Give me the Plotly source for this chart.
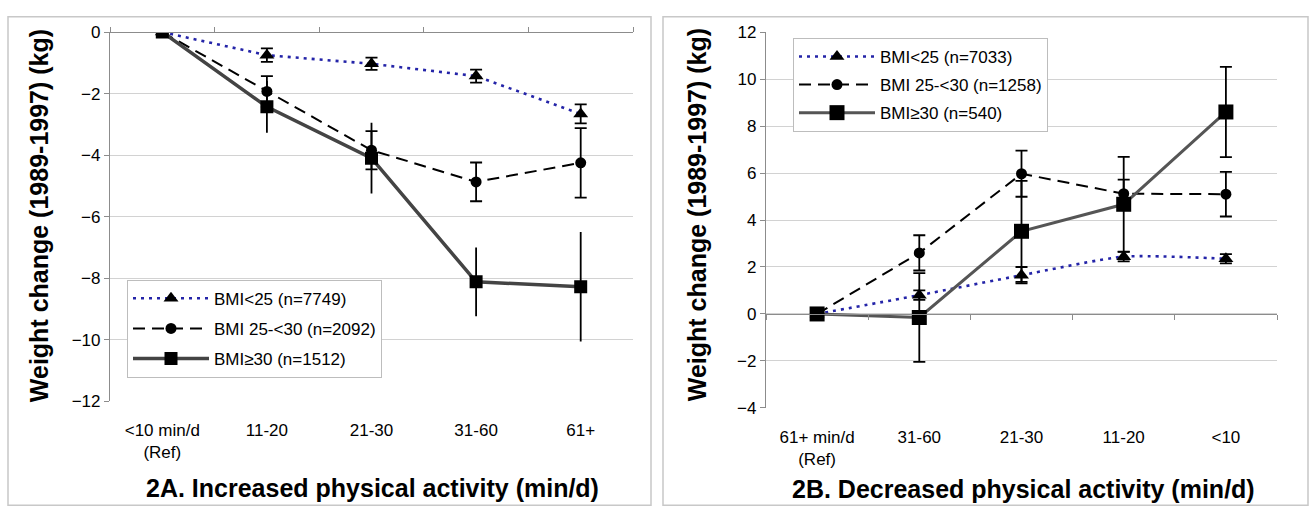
import plotly.graph_objects as go

W, H = 1316, 521

# ---------------- data ----------------
cats_a = ["<10 min/d<br>(Ref)", "11-20", "21-30", "31-60", "61+"]
cats_b = ["61+ min/d<br>(Ref)", "31-60", "21-30", "11-20", "<10"]

names_a = ["BMI<25 (n=7749)", "BMI 25-<30 (n=2092)", "BMI≥30 (n=1512)"]
names_b = ["BMI<25 (n=7033)", "BMI 25-<30 (n=1258)", "BMI≥30 (n=540)"]

a_bmi_lt25 = [0, -0.75, -1.03, -1.43, -2.66]
a_bmi_lt25_err = [0, 0.22, 0.20, 0.21, 0.31]
a_bmi_25_30 = [0, -1.93, -3.84, -4.87, -4.25]
a_bmi_25_30_err = [0, 0.50, 0.62, 0.63, 1.13]
a_bmi_ge30 = [0, -2.43, -4.10, -8.12, -8.28]
a_bmi_ge30_err = [0, 0.84, 1.15, 1.12, 1.78]

b_bmi_lt25 = [0, 0.80, 1.65, 2.44, 2.35]
b_bmi_lt25_err = [0, 0.20, 0.35, 0.20, 0.20]
b_bmi_25_30 = [0, 2.60, 5.97, 5.12, 5.10]
b_bmi_25_30_err = [0, 0.75, 0.98, 0.60, 0.95]
b_bmi_ge30 = [0, -0.15, 3.52, 4.67, 8.60]
b_bmi_ge30_err = [0, 1.89, 2.15, 2.02, 1.92]

yticks_a = [0, -2, -4, -6, -8, -10, -12]
yticks_b = [12, 10, 8, 6, 4, 2, 0, -2, -4]

title_a = "2A. Increased physical activity (min/d)"
title_b = "2B. Decreased physical activity (min/d)"
ytitle = "Weight change (1989-1997) (kg)"

# ---------------- helpers ----------------
FONT = "Liberation Sans, Arial, sans-serif"


def px(x):
    return x / W


def py(y):
    return 1 - y / H


AXC = "#8c8c8c"
GRIDC = "#d2d2d2"

styles = [
    dict(line=dict(color="#2424a8", width=2.6, dash="3px,5px"),
         marker=dict(symbol="triangle-up", size=13, color="black")),
    dict(line=dict(color="black", width=2, dash="12px,7px"),
         marker=dict(symbol="circle", size=11, color="black")),
    dict(line=dict(color="#444444", width=3.5),
         marker=dict(symbol="square", size=13, color="black")),
]

fig = go.Figure()

xa = list(range(len(cats_a)))
xb = list(range(len(cats_b)))

panel_a = [(a_bmi_lt25, a_bmi_lt25_err), (a_bmi_25_30, a_bmi_25_30_err), (a_bmi_ge30, a_bmi_ge30_err)]
panel_b = [(b_bmi_lt25, b_bmi_lt25_err), (b_bmi_25_30, b_bmi_25_30_err), (b_bmi_ge30, b_bmi_ge30_err)]

for i, ((vals, err), name) in enumerate(zip(panel_a, names_a)):
    st = styles[i]
    fig.add_trace(go.Scatter(
        x=xa, y=vals, name=name, mode="lines+markers",
        line=st["line"], marker=st["marker"],
        error_y=dict(type="data", array=err, color="black", thickness=1.8,
                     width=0 if i == 2 else 6),
        xaxis="x", yaxis="y", legend="legend", legendgroup="a%d" % i,
    ))

for i, ((vals, err), name) in enumerate(zip(panel_b, names_b)):
    st = styles[i]
    line = dict(st["line"])
    marker = dict(st["marker"])
    if i == 0:
        line["shape"] = "spline"
        line["smoothing"] = 0.6
    if i == 2:
        line["color"] = "#555555"
        line["width"] = 3
        marker["size"] = 15
    fig.add_trace(go.Scatter(
        x=xb, y=vals, name=name, mode="lines+markers",
        line=line, marker=marker,
        error_y=dict(type="data", array=err, color="black", thickness=1.8, width=6),
        xaxis="x2", yaxis="y2", legend="legend2", legendgroup="b%d" % i,
    ))

# dummy traces to activate overlay axes (axis line with boundary ticks at y=0)
fig.add_trace(go.Scatter(x=[None], y=[None], xaxis="x3", yaxis="y", showlegend=False, hoverinfo="skip"))
fig.add_trace(go.Scatter(x=[None], y=[None], xaxis="x4", yaxis="y2", showlegend=False, hoverinfo="skip"))

dom_a_x = [px(110), px(633)]
dom_a_y = [py(407), py(24)]
dom_b_x = [px(766), px(1277)]
dom_b_y = [py(414), py(24)]

rng_a = [min(yticks_a), max(yticks_a)]
rng_b = [min(yticks_b), max(yticks_b)]


def zero_pos(dom, rng):
    return dom[0] + (0 - rng[0]) / (rng[1] - rng[0]) * (dom[1] - dom[0])


xrng = [-0.5, len(cats_a) - 0.5]
bounds = [i - 0.5 for i in range(len(cats_a) + 1)]

common_x = dict(range=xrng, showline=False, ticks="", showgrid=False, zeroline=False,
                tickfont=dict(size=17, color="black", family=FONT), ticklabelstandoff=17)
common_y = dict(showline=True, linecolor=AXC, linewidth=1.2, ticks="outside", ticklen=5,
                tickcolor=AXC, showgrid=True, gridcolor=GRIDC, gridwidth=1.2, zeroline=False,
                tickfont=dict(size=17, color="black", family=FONT))

leg_common = dict(xanchor="left", yanchor="top", bgcolor="white",
                  bordercolor="#bdbdbd", borderwidth=1, font=dict(size=17, family=FONT),
                  traceorder="grouped", itemwidth=76)

fig.update_layout(
    width=W, height=H,
    margin=dict(l=0, r=0, t=0, b=0),
    paper_bgcolor="white", plot_bgcolor="white",
    font=dict(family=FONT, color="black"),
    xaxis=dict(domain=dom_a_x, anchor="y", tickvals=xa, ticktext=cats_a, **common_x),
    yaxis=dict(domain=dom_a_y, anchor="x", range=rng_a, tickvals=yticks_a, **common_y),
    xaxis2=dict(domain=dom_b_x, anchor="y2", tickvals=xb, ticktext=cats_b, **common_x),
    yaxis2=dict(domain=dom_b_y, anchor="x2", range=rng_b, tickvals=yticks_b, **common_y),
    xaxis3=dict(overlaying="x", anchor="free", position=zero_pos(dom_a_y, rng_a), side="top",
                range=xrng, tickvals=bounds, ticks="outside", ticklen=5, tickcolor=AXC,
                showticklabels=False, showline=True, linecolor=AXC, linewidth=1.2,
                showgrid=False, zeroline=False),
    xaxis4=dict(overlaying="x2", anchor="free", position=zero_pos(dom_b_y, rng_b), side="bottom",
                range=xrng, tickvals=bounds, ticks="outside", ticklen=5, tickcolor=AXC,
                showticklabels=False, showline=True, linecolor=AXC, linewidth=1.2,
                showgrid=False, zeroline=False),
    legend=dict(x=px(127), y=py(281), tracegroupgap=5, **leg_common),
    legend2=dict(x=px(793), y=py(30), tracegroupgap=3, **leg_common),
    showlegend=True,
)

# panel frames
for x0, x1 in [(8, 651), (663, 1308)]:
    fig.add_shape(type="rect", xref="paper", yref="paper",
                  x0=px(x0), x1=px(x1), y0=py(515), y1=py(8),
                  line=dict(color="#c8c8c8", width=1.5), fillcolor="rgba(0,0,0,0)", layer="below")

# titles
title_font = dict(size=25, family=FONT, color="black")
for txt, x, y, ang in [(ytitle, 39, 215, -90), (ytitle, 697, 214, -90),
                       (title_a, 373, 497, 0), (title_b, 1023, 498, 0)]:
    fig.add_annotation(text="<b>%s</b>" % txt, xref="paper", yref="paper",
                       x=px(x), y=py(y), xanchor="center", yanchor="middle",
                       textangle=ang, showarrow=False, font=title_font)

fig.write_html("out.html")
